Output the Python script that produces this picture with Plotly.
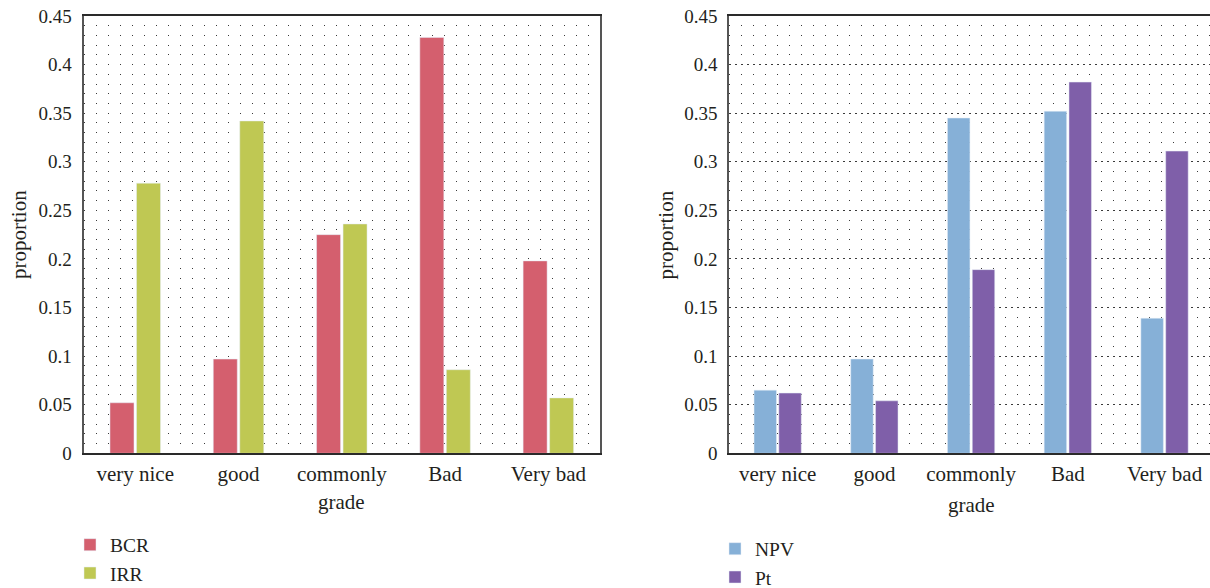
import plotly.graph_objects as go

# Grade categories shared by both panels
grades = ["very nice", "good", "commonly", "Bad", "Very bad"]

# Left panel: proportion of each grade per indicator
bcr = [0.052, 0.097, 0.225, 0.428, 0.198]
irr = [0.278, 0.342, 0.236, 0.086, 0.057]

# Right panel
npv = [0.065, 0.097, 0.345, 0.352, 0.139]
pt = [0.062, 0.054, 0.189, 0.382, 0.311]

y_ticks = [0, 0.05, 0.1, 0.15, 0.2, 0.25, 0.3, 0.35, 0.4, 0.45]

FONT = "Liberation Serif"
TXT = "#231f20"
W, H = 1210, 588

def px_x(v):
    return v / W

def px_y(v):
    return 1 - v / H

fig = go.Figure()

fig.add_trace(go.Bar(x=grades, y=bcr, name="BCR", marker_color="#D45F6E",
                     xaxis="x", yaxis="y", legend="legend"))
fig.add_trace(go.Bar(x=grades, y=irr, name="IRR", marker_color="#BFC853",
                     xaxis="x", yaxis="y", legend="legend"))
fig.add_trace(go.Bar(x=grades, y=npv, name="NPV", marker_color="#86B0D7",
                     xaxis="x2", yaxis="y2", legend="legend2"))
fig.add_trace(go.Bar(x=grades, y=pt, name="Pt", marker_color="#7F5FA9",
                     xaxis="x2", yaxis="y2", legend="legend2"))

dom_y = [px_y(453.3), px_y(16)]
dom_x1 = [px_x(83.6), px_x(600)]
dom_x2 = [px_x(729.3), 1.0]
range_x1 = [-0.5, 4.5]
range_x2 = [-0.5, 4.47]

DOT = "1px,11px"
DOT_COLOR = "#3a3a3a"
nfont = dict(family=FONT, size=19, color=TXT)    # numbers
wfont = dict(family=FONT, size=21, color=TXT)    # words
lfont = dict(family=FONT, size=19.5, color=TXT)  # legend entries

cat_axis = dict(
    type="category", categoryorder="array", categoryarray=grades,
    showgrid=False, zeroline=False, showline=True, linecolor="#2a2a2a",
    linewidth=2, mirror=True, ticks="", tickfont=wfont, ticklabelstandoff=0,
    automargin=False, fixedrange=True,
)

grid_axis = dict(
    showgrid=True, griddash=DOT, gridcolor=DOT_COLOR, gridwidth=1,
    tick0=-0.5, dtick=0.5, showticklabels=False, zeroline=False,
    showline=False, ticks="", automargin=False,
)

val_axis = dict(
    range=[0, 0.45], tickvals=y_ticks, showline=True, linecolor="#555555",
    linewidth=2, zeroline=False, ticks="", ticklabelstandoff=6,
    tickfont=nfont, automargin=False,
    showgrid=True, griddash=DOT, gridcolor=DOT_COLOR, gridwidth=1,
    minor=dict(dtick=0.01, tick0=0, showgrid=True, griddash=DOT,
               gridcolor=DOT_COLOR, gridwidth=1),
    domain=dom_y,
)

fig.update_layout(
    width=W, height=H,
    margin=dict(l=0, r=0, t=0, b=0, autoexpand=False),
    paper_bgcolor="white", plot_bgcolor="white",
    barmode="group", bargap=0.487, bargroupgap=0.094,
    font=wfont,
    xaxis=dict(cat_axis, domain=dom_x1, anchor="y", range=range_x1),
    xaxis2=dict(cat_axis, domain=dom_x2, anchor="y2", range=range_x2),
    xaxis3=dict(grid_axis, overlaying="x", anchor="y", domain=dom_x1, range=range_x1),
    xaxis4=dict(grid_axis, overlaying="x2", anchor="y2", domain=dom_x2, range=range_x2),
    yaxis=dict(val_axis, anchor="x", mirror=True),
    yaxis2=dict(val_axis, anchor="x2", mirror=False,
                griddash="2px,4px", gridcolor="#3a3a3a"),
    legend=dict(x=px_x(70), y=px_y(525.5), xanchor="left", yanchor="top",
                bgcolor="rgba(0,0,0,0)", font=lfont, tracegroupgap=0),
    legend2=dict(x=px_x(715), y=px_y(529.5), xanchor="left", yanchor="top",
                 bgcolor="rgba(0,0,0,0)", font=lfont, tracegroupgap=0),
    showlegend=True,
    annotations=[
        dict(text="proportion", xref="paper", yref="paper", x=px_x(18.5),
             y=px_y(234.5), xanchor="center", yanchor="middle",
             textangle=-90, showarrow=False, font=wfont),
        dict(text="proportion", xref="paper", yref="paper", x=px_x(665),
             y=px_y(234.5), xanchor="center", yanchor="middle",
             textangle=-90, showarrow=False, font=wfont),
        dict(text="grade", xref="x", yref="paper", x="commonly",
             y=px_y(501.5), xanchor="center", yanchor="middle",
             showarrow=False, font=wfont),
        dict(text="grade", xref="x2", yref="paper", x="commonly",
             y=px_y(505), xanchor="center", yanchor="middle",
             showarrow=False, font=wfont),
    ],
)

fig.write_html("out.html")
